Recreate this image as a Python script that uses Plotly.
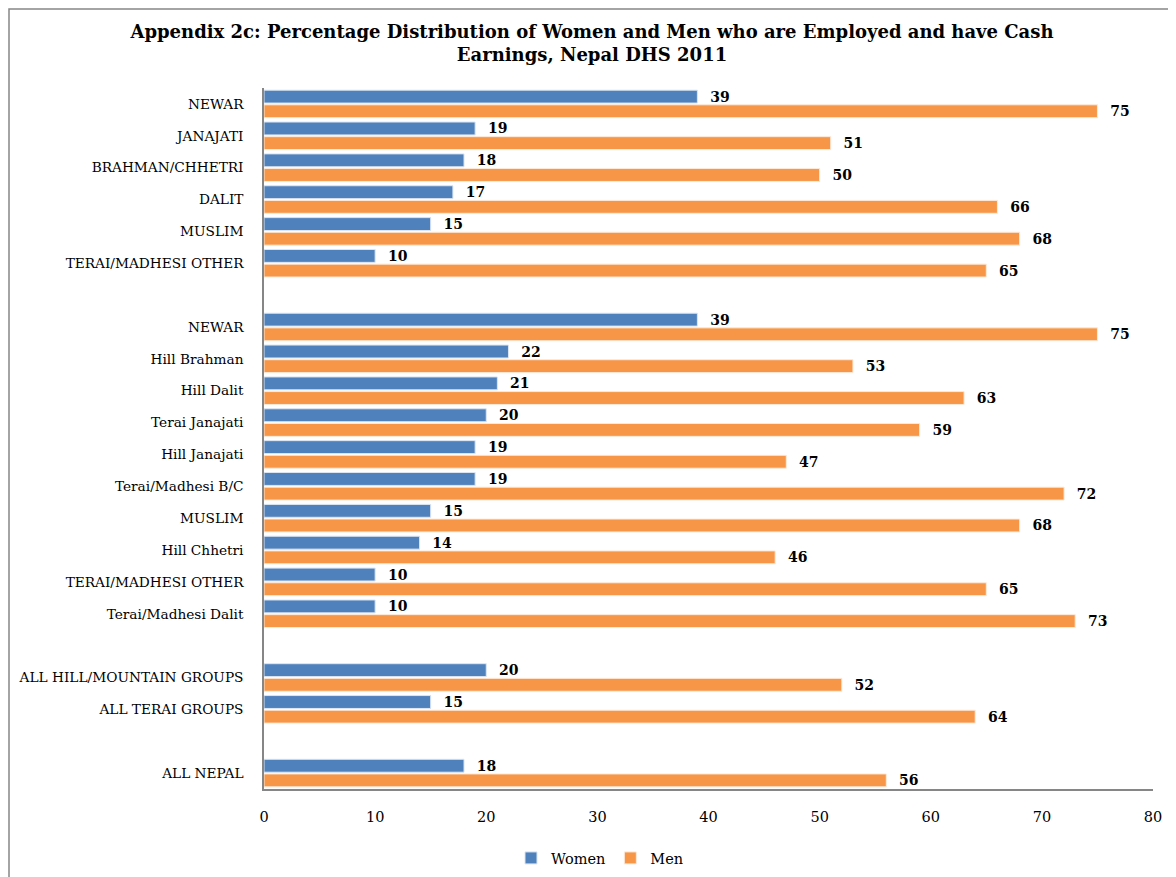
import plotly.graph_objects as go

categories = [
    "NEWAR", "JANAJATI", "BRAHMAN/CHHETRI", "DALIT", "MUSLIM", "TERAI/MADHESI OTHER",
    "",
    "NEWAR", "Hill Brahman", "Hill Dalit", "Terai Janajati", "Hill Janajati",
    "Terai/Madhesi B/C", "MUSLIM", "Hill Chhetri", "TERAI/MADHESI OTHER", "Terai/Madhesi Dalit",
    "",
    "ALL HILL/MOUNTAIN GROUPS", "ALL TERAI GROUPS",
    "",
    "ALL NEPAL",
]
women = [39, 19, 18, 17, 15, 10,
         None,
         39, 22, 21, 20, 19, 19, 15, 14, 10, 10,
         None,
         20, 15,
         None,
         18]
men = [75, 51, 50, 66, 68, 65,
       None,
       75, 53, 63, 59, 47, 72, 68, 46, 65, 73,
       None,
       52, 64,
       None,
       56]
x_ticks = [0, 10, 20, 30, 40, 50, 60, 70, 80]

title = ("<b>Appendix 2c: Percentage Distribution of Women and Men who are Employed and have Cash"
         "<br>Earnings, Nepal DHS 2011</b>")

FONT = "DejaVu Serif"
BLUE = "#4F81BD"
ORANGE = "#F79646"

pos = list(range(len(categories)))

def txt(vals):
    return ["" if v is None else "\u00a0\u00a0" + f"{v:.0f}" for v in vals]

fig = go.Figure()
for name, vals, col, edge in [("Women", women, BLUE, "#DCE6F2"), ("Men", men, ORANGE, "#FDE9D9")]:
    fig.add_trace(go.Bar(
        y=pos, x=vals, orientation="h", name=name,
        marker=dict(color=col, line=dict(color=edge, width=1)),
        text=txt(vals), textposition="outside", constraintext="none",
        textfont=dict(family=FONT, size=14, color="#000000", weight="bold"),
        cliponaxis=False,
    ))

# page body adds an 8px offset; figure sized to fit the window
OFF = 8
W, H = 1176 - OFF, 877 - OFF
# plot area in screen pixels: x 264..1153, y 88..789
L, R, T, B = 264 - OFF, W - (1153 - OFF), 88 - OFF, H - (789 - OFF)
pw, ph = W - L - R, H - T - B
def px(xs):
    return (xs - OFF - L) / pw
def py(ys):
    return (H - B - (ys - OFF)) / ph

fig.update_layout(
    width=W, height=H,
    margin=dict(l=L, r=R, t=T, b=B, autoexpand=False),
    paper_bgcolor="white", plot_bgcolor="white",
    barmode="group", bargap=0.08, bargroupgap=0.12,
    title=dict(text=title, x=0.5, xanchor="center", y=0.966, yanchor="top",
               font=dict(family=FONT, size=18, color="#000000")),
    font=dict(family=FONT, color="#000000"),
    xaxis=dict(range=[0, 80], tickvals=x_ticks, showgrid=False, zeroline=False,
               showline=True, linecolor="#868686", linewidth=1.5,
               ticks="", tickfont=dict(family=FONT, size=14.5, color="#000000"),
               ticklabelstandoff=14),
    yaxis=dict(tickvals=pos, ticktext=categories,
               range=[len(categories) - 0.5, -0.5], autorange=False,
               showgrid=False, zeroline=False,
               showline=True, linecolor="#868686", linewidth=1.5,
               ticks="", tickfont=dict(family=FONT, size=13.7, color="#000000"),
               ticklabelstandoff=16),
    legend=dict(orientation="h", x=px(600), xanchor="center", y=py(842), yanchor="top",
                font=dict(family=FONT, size=14.5, color="#000000"),
                itemwidth=30, traceorder="normal"),
    shapes=[dict(type="path", xref="paper", yref="paper",
                 path=f"M {px(OFF + 1)} {py(H + 20)} L {px(OFF + 1)} {py(OFF + 1)} L {px(W + 30)} {py(OFF + 1)}",
                 line=dict(color="#868686", width=1.5))],
)

fig.write_html("out.html")
